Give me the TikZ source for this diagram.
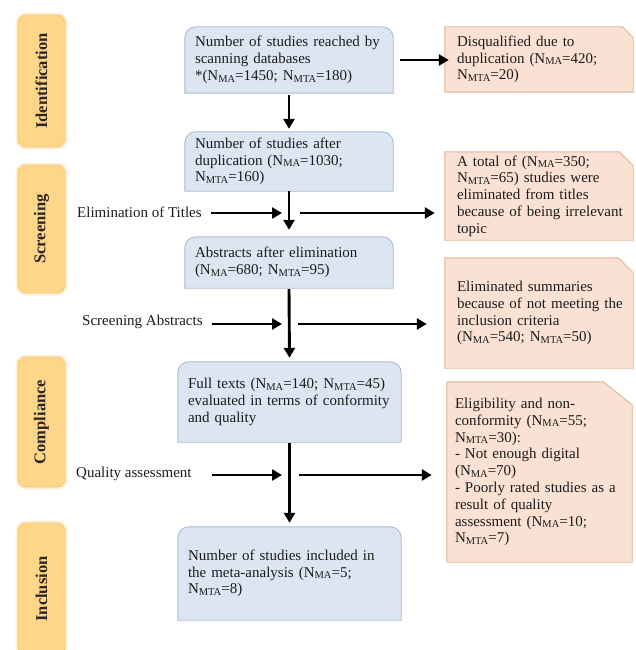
\documentclass[tikz,border=0pt]{standalone}
\usepackage{fontspec}
\setmainfont{Liberation Serif}
\usetikzlibrary{arrows.meta,backgrounds,calc}
\definecolor{bluefill}{HTML}{DCE6F2}
\definecolor{blueline}{HTML}{A9BCD2}
\definecolor{salfill}{HTML}{FBE1D3}
\definecolor{salline}{HTML}{E2B396}
\definecolor{barfill}{HTML}{FDD689}
\definecolor{barline}{HTML}{F5C870}
\definecolor{ink}{HTML}{1C1C1C}
\newcommand\Nsb[1]{N\raisebox{-0.25ex}{\fontsize{10.5}{11}\selectfont #1}}
\newcommand\bluebg[1]{\draw[blueshape] (#1.south west) -- ([yshift=-11pt]#1.north west) arc[start angle=180,end angle=90,radius=11pt] -- ([xshift=-11pt]#1.north east) arc[start angle=90,end angle=0,radius=11pt] -- (#1.south east) -- cycle;}
\newcommand\salbg[4]{\draw[salshape] ([xshift=-#4]#1.south west) -- ([xshift=-#4]#1.north west) -- ([xshift=-#2]#1.north east) -- ([yshift=-#3]#1.north east) -- (#1.south east) -- cycle;}
\begin{document}
\begin{tikzpicture}[x=1pt,y=-1pt,
  txt/.style={font=\fontsize{15}{16.8}\selectfont, text=ink, align=left, inner sep=0pt},
  bluenode/.style={txt, rectangle},
  blueshape/.style={fill=bluefill, draw=blueline, line width=0.9pt},
  salnode/.style={txt, rectangle},
  salshape/.style={fill=salfill, draw=salline, line width=0.9pt},
  bar/.style={rectangle, rotate=90, rounded corners=8pt, fill=barfill, draw=barline, line width=0.8pt,
     preaction={draw=barline!25, line width=5pt},
     minimum height=47, font=\fontsize{16.5}{18}\selectfont\bfseries, text=ink!90!brown},
  lbl/.style={txt, anchor=west},
  arr/.style={line width=2.9pt, draw=black, -{Triangle[length=10pt,width=11pt]}}]

\useasboundingbox (0,0) rectangle (635,650);

% stage bars
\node[bar, minimum width=132] (s1) at (41.5,81) {Identification};
\node[bar, minimum width=128] (s2) at (41.5,229) {Screening};
\node[bar, minimum width=130] (s3) at (41.5,422) {Compliance};
\node[bar, minimum width=132] (s4) at (41.5,589) {Inclusion};

% main boxes
\node[bluenode, minimum width=208, minimum height=66, text width=188] (b1) at (289,60)
  {Number of studies reached by\\scanning databases\\\mbox{*}(\Nsb{MA}=1450; \Nsb{MTA}=180)};
\node[bluenode, minimum width=208, minimum height=59, text width=188] (b2) at (289,161.5)
  {Number of studies after\\duplication (\Nsb{MA}=1030;\\\Nsb{MTA}=160)};
\node[bluenode, minimum width=208, minimum height=51, text width=188] (b3) at (289,262.5)
  {Abstracts after elimination\\(\Nsb{MA}=680; \Nsb{MTA}=95)};
\node[bluenode, minimum width=223, minimum height=80, text width=203] (b4) at (289.5,402)
  {Full texts (\Nsb{MA}=140; \Nsb{MTA}=45)\\evaluated in terms of conformity\\and quality};
\node[bluenode, minimum width=223, minimum height=93, text width=203] (b5) at (289.5,573.5)
  {Number of studies included in\\the meta-analysis (\Nsb{MA}=5;\\\Nsb{MTA}=8)};

% exclusion boxes
\node[salnode, minimum width=182, minimum height=65, text width=170] (oA) at (542,59.5)
  {Disqualified due to\\duplication (\Nsb{MA}=420;\\\Nsb{MTA}=20)};
\node[salnode, minimum width=182, minimum height=88, text width=170] (oB) at (542,196)
  {A total of (\Nsb{MA}=350;\\\Nsb{MTA}=65) studies were\\eliminated from titles\\because of being irrelevant\\topic};
\node[salnode, minimum width=182, minimum height=110, text width=170] (oC) at (542,313)
  {Eliminated summaries\\because of not meeting the\\inclusion criteria\\(\Nsb{MA}=540; \Nsb{MTA}=50)};
\node[salnode, minimum width=180, minimum height=180, text width=174] (oD) at (542,472)
  {Eligibility and non-\\conformity (\Nsb{MA}=55;\\\Nsb{MTA}=30):\\- Not enough digital\\(\Nsb{MA}=70)\\- Poorly rated studies as a\\result of quality\\assessment (\Nsb{MA}=10;\\\Nsb{MTA}=7)};

\begin{scope}[on background layer]
  \fill[white] (0,0) rectangle (635,650);
  \bluebg{b1}\bluebg{b2}\bluebg{b3}\bluebg{b4}\bluebg{b5}
  \salbg{oA}{11pt}{11pt}{6pt}
  \salbg{oB}{14pt}{14pt}{6pt}
  \salbg{oC}{15pt}{15pt}{6pt}
  \salbg{oD}{29pt}{23pt}{5pt}
\end{scope}

% side labels
\node[lbl] (l1) at (77,212) {Elimination of Titles};
\node[lbl] (l2) at (82,322) {Screening Abstracts};
\node[lbl] (l3) at (76,474) {Quality assessment};

% junctions on the spine
\coordinate (j1) at (289,213);
\coordinate (j2) at (289,324);
\coordinate (j3) at (289,475);

% vertical flow
\draw[arr, shorten <=2pt, shorten >=3pt] (b1.south) -- (b2.north);
\draw[arr, shorten >=7pt] (b2.south) -- (b3.north);
\draw[arr, shorten <=1pt, shorten >=4pt] (b3.south) -- (b4.north);
\draw[arr, shorten <=1pt, shorten >=4pt] (b4.south) -- (b5.north);

% first exclusion
\draw[arr, shorten <=7pt, shorten >=2pt] (b1.east) -- (b1.east -| oA.west);

% label arrows
\draw[arr, shorten <=9pt, shorten >=7pt] (l1.east |- j1) -- (j1);
\draw[arr, shorten <=9pt, shorten >=7pt] (l2.east |- j2) -- (j2);
\draw[arr, shorten <=20pt, shorten >=7pt] (l3.east |- j3) -- (j3);

% exclusion arrows
\draw[arr, shorten <=11pt, shorten >=16pt] (j1) -- (j1 -| oB.west);
\draw[arr, shorten <=9pt, shorten >=24pt] (j2) -- (j2 -| oC.west);
\draw[arr, shorten <=10pt, shorten >=20pt] (j3) -- (j3 -| oD.west);
\end{tikzpicture}
\end{document}
